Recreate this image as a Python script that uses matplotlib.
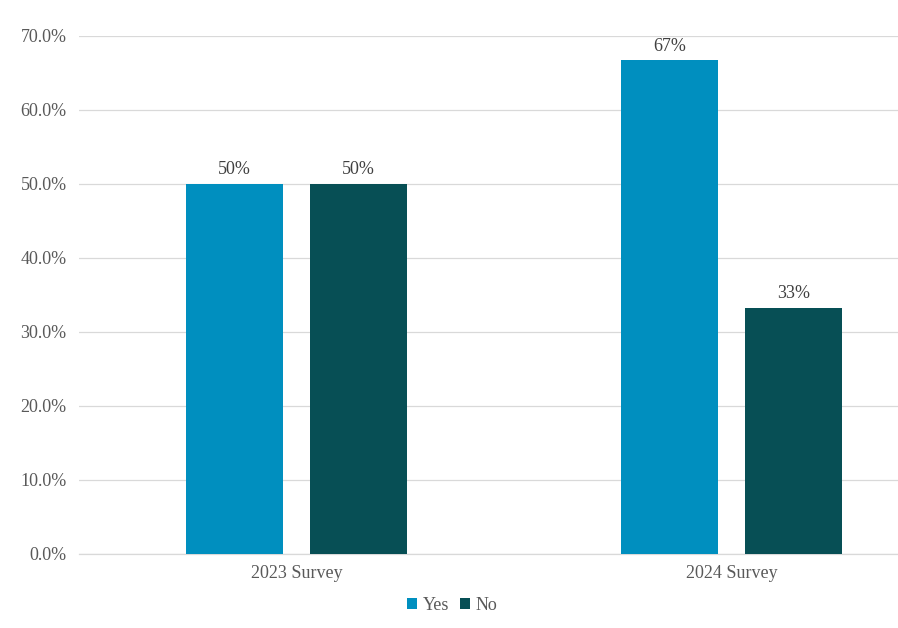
import matplotlib.pyplot as plt
from matplotlib.ticker import FuncFormatter

# data
surveys = ["2023 Survey", "2024 Survey"]
yes_vals = [50.0, 66.7]
no_vals = [50.0, 33.3]
yes_labels = ["50%", "67%"]
no_labels = ["50%", "33%"]

YES_COLOR = "#008FBF"
NO_COLOR = "#074F55"
TEXT = "#595959"

plt.rcParams["font.family"] = ["Liberation Serif", "DejaVu Serif"]

fig = plt.figure(figsize=(8.98, 6.28), dpi=100)
# axes in pixel terms: left 79, right 898, bottom 554, top 36
ax = fig.add_axes([79 / 898, (628 - 554) / 628, (898 - 79) / 898, (554 - 36) / 628])

x = list(range(len(surveys)))
w = 0.223
off = 0.1425
b1 = ax.bar([i - off for i in x], yes_vals, w, color=YES_COLOR, label="Yes", zorder=3)
b2 = ax.bar([i + off for i in x], no_vals, w, color=NO_COLOR, label="No", zorder=3)

for bars, labs in ((b1, yes_labels), (b2, no_labels)):
    for rect, lab in zip(bars, labs):
        ax.annotate(lab, (rect.get_x() + rect.get_width() / 2, rect.get_height()),
                    xytext=(0, 4), textcoords="offset points",
                    ha="center", va="bottom", fontsize=13, color="#404040")

ax.set_xlim(-0.5, 1.383)
ax.set_ylim(0, 70)
ax.set_yticks(range(0, 71, 10))
ax.yaxis.set_major_formatter(FuncFormatter(lambda v, p: f"{v:.1f}%"))
ax.set_xticks(x)
ax.set_xticklabels(surveys)
ax.tick_params(axis="both", length=0, labelsize=13, colors=TEXT)
ax.tick_params(axis="y", pad=9)
ax.tick_params(axis="x", pad=8)
ax.grid(axis="y", color="#D9D9D9", linewidth=0.9, zorder=0)
for s in ["top", "right", "left"]:
    ax.spines[s].set_visible(False)
ax.spines["bottom"].set_color("#D9D9D9")
ax.spines["bottom"].set_linewidth(0.9)

fig.legend(handles=[b1, b2], labels=["Yes", "No"], loc="center",
           bbox_to_anchor=(452 / 898, 1 - 605 / 628), ncol=2, frameon=False,
           fontsize=13, labelcolor=TEXT, handlelength=0.55, handleheight=0.55,
           handletextpad=0.3, columnspacing=0.6)

fig.savefig("out.png", dpi=100)
